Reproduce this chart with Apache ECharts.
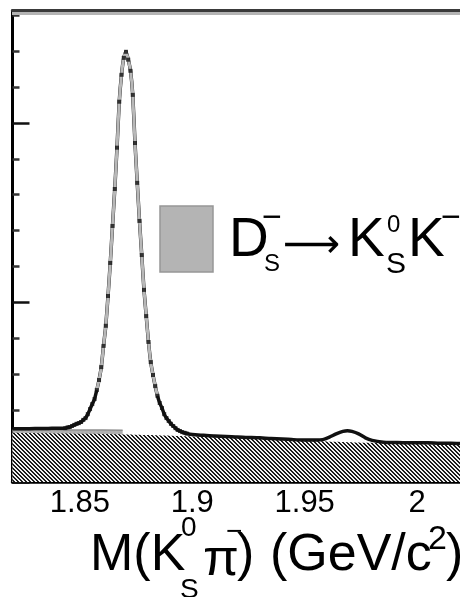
<!DOCTYPE html>
<html>
<head>
<meta charset="utf-8">
<script src="https://cdn.jsdelivr.net/npm/echarts@6/dist/echarts.min.js"></script>
<style>html,body{margin:0;padding:0;background:#fff}#c{width:460px;height:597px}</style>
</head>
<body>
<div id="c"></div>
<script>
// ---- data ----
const xTickValues = [1.85, 1.9, 1.95, 2.0];
const xTickLabels = ['1.85', '1.9', '1.95', '2'];
const yMajorTicks = [0, 500, 1000];
const yMinorTicks = [100, 200, 300, 400, 600, 700, 800, 900, 1100, 1200, 1300];

// data points (1 MeV bins) on the D+ peak
const peakMass = [1.8435,1.8445,1.8455,1.8465,1.8475,1.8485,1.8495,1.8505,1.8515,1.8525,
  1.8535,1.8545,1.8555,1.8565,1.8575,1.8585,1.8595,1.8605,1.8615,1.8625,
  1.8635,1.8645,1.8655,1.8665,1.8675,1.8685,1.8695,1.8705,1.8715,1.8725,
  1.8735,1.8745,1.8755,1.8765,1.8775,1.8785,1.8795,1.8805,1.8815,1.8825,
  1.8835,1.8845,1.8855,1.8865,1.8875,1.8885,1.8895,1.8905,1.8915,1.8925,
  1.8935,1.8945,1.8955,1.8965,1.8975];
const peakCounts = [150,152,153,156,159,162,164,167,173,178,
  189,203,217,231,256,284,320,379,435,518,
  610,713,816,931,1059,1134,1181,1198,1176,1145,
  1078,944,833,727,632,535,462,390,334,298,
  267,240,220,206,189,178,170,162,156,150,
  145,142,139,137,135];

// total fit outside the D+ peak
const leftMass = [1.820,1.825,1.830,1.835,1.840];
const leftFit  = [148,148,149,149,150];
const rightMass = [1.900,1.905,1.910,1.915,1.920,1.925,1.930,1.935,1.940,1.945,1.950,1.955,1.958,1.961,1.964,1.967,1.969,1.971,1.974,1.977,1.980,1.985,1.990,1.995,2.000,2.005,2.010,2.015,2.020];
const rightFit  = [132,130,128,127,125,124,123,121,120,118,117,117,118,125,134,141,143,141,134,123,116,111,110,109,109,109,108,108,107];

// combinatorial background (hatched)
const bgMass = [1.820,1.840,1.860,1.880,1.900,1.920,1.940,1.960,1.980,2.000,2.020];
const bgLevel = [137,135,134,131,127,123,117,113,109,106,103];

// Ds- -> KS0 K- reflection (top of grey band)
const reflMass = [1.820,1.830,1.840,1.850,1.860,1.869];
const reflTop  = [145,145,145,145,144,144];

// level above which the fit curve is drawn light grey
const greyAbove = 240;

// ---- chart ----
function hatchPattern(){
  const c = document.createElement('canvas');
  c.width = 8; c.height = 8;
  const g = c.getContext('2d');
  g.fillStyle = '#f2f2f2'; g.fillRect(0,0,8,8);
  g.fillStyle = '#1c1c1c';
  for (let y=0;y<8;y++) for (let x=0;x<8;x++){
    if ((((x - y) % 4) + 4) % 4 < 2) g.fillRect(x,y,1,1);
  }
  return c;
}
const zip = (a,b) => a.map((v,i)=>[v,b[i]]);
const totalMass = leftMass.concat(peakMass, rightMass);
const totalFit = leftFit.concat(peakCounts, rightFit);
// upper part of the peak (grey line)
const iFirst = Math.max(0, peakCounts.findIndex(v=>v>=greyAbove) - 1);
let iLast = peakCounts.length - 1;
while (iLast > 0 && peakCounts[iLast] < greyAbove) iLast--;
iLast = Math.min(peakCounts.length - 1, iLast + 1);
const upperPeak = zip(peakMass, peakCounts).slice(iFirst + 1, iLast);

const FONT = 'Liberation Sans, Arial, sans-serif';
const chart = echarts.init(document.getElementById('c'), null, {renderer:'canvas'});

function txt(text, x, y, size, family){
  return {type:'text', x:x, y:y, z:100,
    style:{text:text, fontSize:size, fontFamily:family||FONT, fill:'#000', align:'left', verticalAlign:'middle'}};
}

chart.setOption({
  animation:false,
  backgroundColor:'#fff',
  grid:{left:12.5, right:0, top:10.5, bottom:115},
  xAxis:[{
    type:'value', min:1.82, max:2.0191, position:'bottom',
    axisLine:{show:true, onZero:false, lineStyle:{color:'#000', width:3.5}},
    axisTick:{show:true, inside:true, length:12, customValues:xTickValues, lineStyle:{color:'#000', width:2.5}},
    axisLabel:{show:true, customValues:xTickValues, margin:6, fontSize:31, fontFamily:FONT, color:'#000',
      formatter:(v)=>{const i=xTickValues.findIndex(t=>Math.abs(t-v)<1e-6);return i>=0?xTickLabels[i]:'';}},
    splitLine:{show:false}
  },{
    type:'value', min:1.82, max:2.0191, position:'top',
    axisLine:{show:true, onZero:false, lineStyle:{color:'#3a3a3a', width:3}},
    axisTick:{show:false}, axisLabel:{show:false}, splitLine:{show:false}
  }],
  yAxis:[{
    type:'value', min:0, max:1313,
    axisLine:{show:true, onZero:false, lineStyle:{color:'#000', width:3}},
    axisTick:{show:true, inside:true, length:17, customValues:yMajorTicks, lineStyle:{color:'#111', width:2.5}},
    axisLabel:{show:false}, splitLine:{show:false}
  },{
    type:'value', min:0, max:1313, position:'left',
    axisLine:{show:false},
    axisTick:{show:true, inside:true, length:7, customValues:yMinorTicks, lineStyle:{color:'#333', width:2.5}},
    axisLabel:{show:false}, splitLine:{show:false}
  }],
  series:[
    {type:'line', name:'reflection', data:zip(reflMass, reflTop), step:'end', symbol:'none', z:1,
      lineStyle:{color:'#8f8f8f', width:1.5}, areaStyle:{color:'#b0b0b0', opacity:1}},
    {type:'line', name:'background', data:zip(bgMass, bgLevel), smooth:true, symbol:'none', z:2,
      lineStyle:{width:0}, areaStyle:{color:{image:hatchPattern(), repeat:'repeat'}, opacity:1}},
    {type:'line', name:'fit', data:zip(totalMass, totalFit), smooth:0.2, symbol:'none', z:3,
      lineStyle:{width:3.5, color:'#111'}},
    {type:'line', name:'fit upper', data:upperPeak, smooth:0.2, symbol:'none', z:4,
      lineStyle:{width:3, color:'#b8b8b8'}},
    {type:'scatter', name:'data', data:zip(peakMass, peakCounts), symbol:'rect', symbolSize:4, z:5,
      itemStyle:{color:'#111'}}
  ],
  graphic:[
    {type:'rect', shape:{x:12, y:12, width:448, height:3}, style:{fill:'#b4b4b4'}, z:50},
    // legend
    {type:'rect', shape:{x:160, y:206, width:53, height:66}, style:{fill:'#b4b4b4', stroke:'#969696', lineWidth:1.5}, z:100},
    txt('D', 229, 241, 55),
    txt('\u2212', 262, 219, 34),
    txt('S', 264, 264, 24),
    txt('\u27F6', 283, 247, 40, 'DejaVu Sans'),
    txt('K', 348, 241, 55),
    txt('0', 387, 225, 24),
    txt('S', 386, 265, 30),
    txt('K', 408, 241, 55),
    txt('\u2212', 441, 219, 34),
    // axis title
    txt('M(K', 90, 556, 52),
    txt('0', 181, 528, 28),
    txt('S', 180, 590, 28),
    txt('\u03C0', 203, 561, 52),
    txt('\u2212', 226, 532, 28),
    txt(')', 237, 556, 52),
    txt('(GeV/c', 270, 556, 52),
    txt('2', 428, 540, 34),
    txt(')', 446, 556, 52)
  ]
});
</script>
</body>
</html>
